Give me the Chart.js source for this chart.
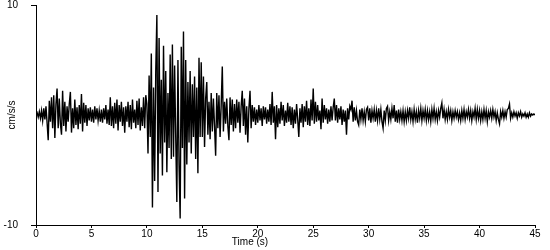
<!DOCTYPE html>
<html>
<head>
<meta charset="utf-8">
<title>Accelerogram</title>
<script src="https://cdn.jsdelivr.net/npm/chart.js@4.4.1/dist/chart.umd.min.js"></script>
<style>
  body { margin: 0; background: #fff; }
  canvas { display: block; }
</style>
</head>
<body>
<canvas id="myChart" width="550" height="250"></canvas>
<script>
//Sample interval of the record (s)
const dt = 0.1;

//Acceleration, one row per second (cm/s/s)
const accel = [
  0, 0.2, -0.2, 0.3, -0.3, 0.4, -0.5, 0.6, -0.4, 0.8,
  -0.7, -2.3, 1.3, -0.6, 1.6, -1.2, 1.8, -2.1, 1.0, 2.4,
  -1.2, 1.5, -0.8, -1.8, 2.2, -1.0, 1.2, -1.5, 0.8, -0.6,
  1.0, 2.1, -1.6, 0.6, -1.2, 1.4, -0.9, 0.7, -1.3, 0.9,
  -0.8, 1.9, -1.5, 1.1, -0.7, 0.9, -1.0, 0.6, -0.5, 0.7,
  -0.6, 0.5, -0.7, 0.8, -0.4, 0.6, -0.5, 0.4, -0.6, 0.5,
  -0.7, 0.6, -0.4, 0.9, -0.8, 0.5, -0.9, 1.6, -1.0, 0.8,
  -1.2, 1.1, -0.8, 1.4, -1.4, 0.9, -0.6, 1.2, -1.0, 0.7,
  -1.6, 0.8, -0.6, 1.2, -1.1, 0.9, -1.3, 1.4, -0.7, 0.5,
  -1.2, 1.3, -0.9, 1.5, -1.4, 0.7, -1.0, 1.6, -1.2, 1.8,
  1.0, -3.5, 3.6, -2.0, 5.6, -8.4, 2.5, -6.0, 4.0, 9.1,
  -7.0, 7.0, -3.5, 3.2, -5.5, 6.3, -2.5, 4.0, -5.2, 2.0,
  -3.0, 5.5, -4.0, 6.4, -3.8, 4.5, -2.0, -7.9, 5.0, -4.5,
  -9.4, 6.2, -3.0, 7.6, -7.6, 5.0, -4.5, 3.0, -2.5, 4.0,
  -3.5, 2.8, -2.0, 3.5, -4.0, 2.5, -5.3, 5.2, -2.0, 4.8,
  -2.0, 3.5, -2.9, 1.5, 3.0, -1.8, 1.2, -2.2, 2.0, -1.5,
  1.5, -1.0, -3.7, 2.0, -1.2, 1.8, -2.0, 0.9, 4.4, -1.5,
  1.2, -0.8, 1.5, -1.0, -2.3, 1.6, -0.9, 1.4, -1.5, 1.0,
  -1.2, 1.4, -0.7, 1.2, -1.6, 0.8, 2.2, -1.0, 1.5, -1.8,
  0.8, -2.5, 0.6, 2.2, -1.2, 0.9, -0.6, 0.7, -0.9, 0.5,
  -0.7, 0.9, -0.5, 0.6, -1.0, 0.8, -0.4, 0.7, -0.8, 0.5,
  -0.6, 1.0, -0.9, 2.1, -0.7, 0.8, -2.2, 0.9, -1.1, 0.6,
  -0.8, 1.2, -0.5, 0.9, -1.0, 0.4, -0.7, 1.1, -0.6, 0.8,
  -0.9, 0.7, -1.2, 0.5, -0.8, 1.0, -0.4, -2.0, 0.6, -0.7,
  1.0, -1.1, 0.8, -0.6, 1.3, -0.9, 0.6, -1.0, 1.4, -0.5,
  2.4, -0.8, 1.2, -0.6, 0.9, -0.5, 0.4, -1.3, 1.5, -0.7,
  0.9, -0.4, 0.6, -0.8, 0.5, -0.6, 0.8, -0.5, 0.7, 1.5,
  -0.5, 0.9, -0.7, 0.6, -0.4, 0.8, -0.9, 0.5, -0.6, 0.4,
  -1.8, 0.6, -0.4, 0.8, 0.5, 1.3, -0.6, 0.7, -0.5, 0.4,
  -0.6, -0.9, 0.5, -0.4, 0.6, -0.5, 0.3, -0.6, 0.5, 0.7,
  -0.5, 0.6, -0.7, 0.4, -0.3, 0.5, -0.6, 0.4, -0.5, 0.6,
  -0.4, 0.5, -0.6, -1.2, 0.4, -0.5, 0.6, 0.8, -0.5, 0.3,
  -0.4, 0.6, -0.3, 0.9, -0.6, 0.4, -0.7, 0.5, -0.4, 0.3,
  -0.5, 0.4, -0.6, 0.3, -0.5, 0.4, -0.3, 0.7, -0.4, 0.3,
  -0.6, 0.5, -0.4, 0.3, -0.7, 0.4, -0.3, 0.6, -0.5, 0.4,
  -0.3, 0.5, -0.5, 0.4, -0.4, 0.3, -0.6, 0.5, -0.3, 0.6,
  -0.4, 0.3, -0.5, 0.4, -0.2, 0.6, 1.1, -0.3, 0.5, -0.4,
  0.3, -0.4, 0.5, -0.2, 0.4, -0.5, 0.3, -0.3, 0.4, -0.2,
  0.3, -0.4, 0.2, -0.5, 0.4, -0.3, 0.5, -0.4, 0.3, -0.2,
  0.5, -0.3, 0.4, -0.5, 0.3, -0.2, 0.6, -0.4, 0.5, -0.3,
  0.4, -0.5, 0.3, -0.4, 0.5, -0.3, 0.4, -0.6, 0.3, -0.2,
  0.4, -0.3, 0.5, -0.2, 0.3, -0.5, 0.2, -0.4, -0.8, 0.3,
  -0.2, 0.4, -0.3, 0.3, -0.2, 0.5, 0.6, 1.0, -0.3, 0.2,
  -0.2, 0.3, -0.1, 0.2, -0.3, 0.2, -0.1, 0.3, -0.2, 0.1,
  -0.1, 0.2, -0.2, 0.1, -0.2, 0.2, -0.1, 0.1, 0.0, 0.1,
  0.0
];

//Axis ticks
const xTicks = [0, 5, 10, 15, 20, 25, 30, 35, 40, 45];
const yTicks = [-10, 10];

//Axis titles
const xTitle = 'Time (s)';
const yTitle = 'cm/s/s';

//Pair each sample with its time
const points = accel.map((a, i) => ({ x: i * dt, y: a }));

const font = { family: 'Liberation Sans', size: 10 };

//Time title sits left of centre in the original, so draw it by hand
const xTitlePlugin = {
  id: 'xTitle',
  afterDraw(chart) {
    const c = chart.ctx;
    c.save();
    c.font = '10px "Liberation Sans"';
    c.fillStyle = '#000';
    c.textAlign = 'center';
    c.textBaseline = 'middle';
    c.fillText(xTitle, 250, 242);
    c.restore();
  }
};

function chartResults() {
  const ctx = document.getElementById('myChart').getContext('2d');
  const myChart = new Chart(ctx, {
    type: 'line',
    data: {
      datasets: [{
        data: points,
        borderColor: '#000',
        borderWidth: 1.4,
        pointRadius: 0,
        tension: 0
      }]
    },
    options: {
      responsive: false,
      animation: false,
      layout: { padding: { top: 5, right: 15, left: 0, bottom: 0 } },
      plugins: { legend: { display: false }, tooltip: { enabled: false } },
      scales: {
        x: {
          type: 'linear',
          min: 0,
          max: 45,
          afterBuildTicks: s => { s.ticks = xTicks.map(v => ({ value: v })); },
          afterFit: s => { s.height = 25; s.paddingLeft = 0; s.paddingRight = 0; },
          grid: { display: true, drawOnChartArea: false, drawTicks: true, tickLength: 3, color: '#000' },
          border: { display: true, color: '#000' },
          ticks: { color: '#000', font: font, padding: 0, maxRotation: 0 }
        },
        y: {
          min: -10,
          max: 10,
          afterBuildTicks: s => { s.ticks = yTicks.map(v => ({ value: v })); },
          afterFit: s => { s.width = 36; s.paddingTop = 0; s.paddingBottom = 0; },
          grid: { display: true, drawOnChartArea: false, drawTicks: true, tickLength: 5, color: '#000' },
          border: { display: true, color: '#000' },
          ticks: { color: '#000', font: font, padding: 13 },
          title: { display: true, text: yTitle, color: '#000', font: font, padding: { top: 6, bottom: 0 } }
        }
      }
    },
    plugins: [xTitlePlugin]
  });
}

//Run chart function
chartResults();
</script>
</body>
</html>
